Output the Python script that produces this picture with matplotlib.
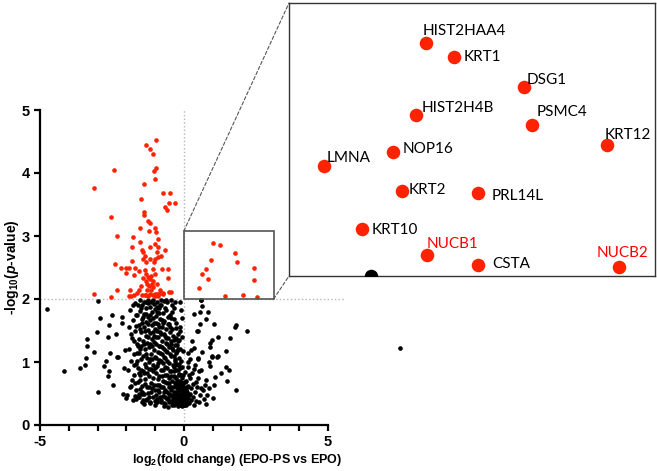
"""
Volcano plot EPO-PS vs EPO with a zoomed inset of the up-regulated corner
"""
import numpy as np
import matplotlib
matplotlib.use("Agg")
import matplotlib.pyplot as plt
from matplotlib.patches import Rectangle, ConnectionPatch

# significant proteins (red), log2 fold change / -log10 p
red_pts = [
    (-0.96, 4.53), (-1.31, 4.44), (-1.19, 4.38), (-1.07, 4.30), (-0.96, 4.08),
    (-1.05, 4.03), (-2.44, 4.04), (-1.00, 3.91), (-1.37, 3.82), (-3.14, 3.76),
    (-0.74, 3.69), (-0.49, 3.69), (-1.49, 3.58), (-0.52, 3.52), (-0.30, 3.53),
    (-0.66, 3.46), (-0.57, 3.41), (-1.40, 3.38), (-1.38, 3.33), (-2.53, 3.30),
    (-1.24, 3.24), (-1.17, 3.21), (-1.52, 3.12), (-1.00, 3.12), (-1.22, 3.08),
    (-0.96, 3.07), (-2.31, 3.00), (-1.78, 2.99), (-0.91, 2.95), (-1.52, 2.91),
    (-0.99, 2.88), (-1.79, 2.82), (-1.44, 2.78), (-1.19, 2.82), (-0.91, 2.82),
    (-1.41, 2.74), (-0.95, 2.75), (-0.66, 2.77), (-1.34, 2.68), (-0.89, 2.66),
    (-1.16, 2.64), (-1.00, 2.64), (-1.43, 2.63), (-0.81, 2.68), (-1.80, 2.61),
    (-1.30, 2.59), (-1.05, 2.58), (-2.38, 2.56), (-2.17, 2.50), (-2.00, 2.49),
    (-1.92, 2.50), (-1.70, 2.49), (-1.57, 2.45), (-1.36, 2.46), (-1.07, 2.47),
    (-0.75, 2.48), (-0.54, 2.47), (-2.02, 2.41), (-1.75, 2.38), (-1.31, 2.40),
    (-1.02, 2.40), (-1.43, 2.34), (-1.24, 2.35), (-1.13, 2.37), (-0.56, 2.34),
    (-1.33, 2.29), (-1.17, 2.31), (-1.06, 2.29), (-1.28, 2.24), (-1.12, 2.24),
    (-0.92, 2.24), (-1.50, 2.21), (-1.20, 2.20), (-1.06, 2.19), (-1.87, 2.14),
    (-1.56, 2.14), (-2.32, 2.15), (-1.28, 2.15), (-1.13, 2.14), (-0.82, 2.14),
    (-0.46, 2.11), (-3.11, 2.08), (-2.53, 2.03), (-1.92, 2.05), (-1.74, 2.07),
    (-1.45, 2.07), (-1.30, 2.07), (-1.19, 2.08), (-1.02, 2.08), (-0.89, 2.08),
    (-0.74, 2.09), (-1.24, 2.04), (-1.02, 2.04), (-0.89, 2.04), (-1.83, 2.05),
    (-1.63, 2.09), (-1.34, 2.06), (-1.07, 2.06), (-0.95, 2.08), (-0.81, 2.09),
    (-0.73, 2.08), (-0.50, 2.11),
]

# non significant proteins (black)
black_pts = [
    (-4.74, 1.84), (-2.99, 1.97), (-2.50, 1.75), (-2.92, 1.70), (-2.60, 1.59),
    (-2.15, 1.71), (-3.03, 1.47), (-2.37, 1.44), (-2.65, 1.39), (-3.38, 1.37),
    (-3.36, 1.26), (-3.14, 1.16), (-3.40, 1.06), (-2.56, 1.15), (-2.32, 1.08),
    (-2.06, 1.19), (-2.14, 1.62), (-4.15, 0.85), (-3.60, 0.90), (-3.42, 0.95),
    (-2.99, 0.53), (-2.79, 0.94), (-2.69, 1.02), (-2.59, 0.85), (-2.65, 0.77),
    (-2.45, 0.63), (-2.13, 0.50), (-2.02, 0.43), (-2.29, 1.08), (-2.09, 0.90),
    (-1.86, 0.60), (-1.71, 0.46), (-1.57, 0.45), (-1.44, 0.49), (-1.19, 0.37),
    (-0.70, 0.30), (-0.40, 0.32),
    (0.58, 1.99), (0.64, 1.89), (0.36, 1.76), (0.57, 1.79), (0.84, 1.79),
    (0.77, 1.68), (0.57, 1.60), (1.06, 1.61), (1.80, 1.59), (1.76, 1.56),
    (2.18, 1.50), (0.44, 1.50), (0.50, 1.50), (-0.15, 1.49), (0.29, 1.34),
    (1.20, 1.39), (1.62, 1.38), (0.97, 1.35), (0.91, 1.30), (0.92, 1.24),
    (0.34, 1.23), (0.24, 1.19), (0.15, 1.15), (0.64, 1.16), (1.48, 1.17),
    (0.99, 1.10), (1.18, 1.09), (0.48, 1.06), (-0.20, 1.33), (-0.25, 1.27),
    (0.14, 1.00), (0.50, 1.05), (0.87, 1.00), (0.99, 1.08), (1.16, 1.08),
    (0.90, 0.93), (1.45, 0.92), (1.58, 0.87), (0.35, 0.89), (0.52, 0.85),
    (1.28, 0.82), (1.07, 0.76), (1.51, 0.70), (0.77, 0.71), (0.87, 0.59),
    (1.03, 0.63), (1.80, 0.56), (0.59, 0.58), (0.41, 0.69), (0.23, 0.74),
    (1.01, 0.43), (0.70, 0.41), (0.77, 0.33), (0.52, 0.37), (0.35, 0.32),
    (0.06, 0.32), (0.17, 0.48), (-0.05, 0.63), (-0.17, 0.79), (7.50, 1.22),
    (-1.98, 0.47), (-1.95, 0.88), (-1.92, 1.21), (-1.90, 1.55), (-1.88, 1.83),
    (-1.85, 0.62), (-1.83, 1.02), (-1.80, 1.38), (-1.78, 1.67), (-1.76, 0.39),
    (-1.74, 0.79), (-1.72, 1.12), (-1.70, 1.49), (-1.69, 1.94), (-1.67, 0.55),
    (-1.66, 0.97), (-1.64, 1.29), (-1.62, 1.74),
    (-1.60, 0.44), (-1.59, 0.68), (-1.58, 0.91), (-1.57, 1.15), (-1.56, 1.36),
    (-1.55, 1.58), (-1.54, 1.81), (-1.53, 1.98), (-1.52, 0.57), (-1.51, 0.80),
    (-1.50, 1.04), (-1.49, 1.26), (-1.48, 1.47), (-1.47, 1.69), (-1.46, 1.90),
    (-1.45, 0.36), (-1.44, 0.62), (-1.43, 0.86), (-1.42, 1.10), (-1.41, 1.33),
    (-1.40, 1.55), (-1.39, 1.76), (-1.38, 1.95), (-1.37, 0.49), (-1.36, 0.73),
    (-1.35, 0.97), (-1.34, 1.20), (-1.33, 1.42), (-1.32, 1.64), (-1.31, 1.85),
    (-1.30, 0.40), (-1.30, 0.92),
    (-1.29, 0.60), (-1.28, 1.06), (-1.27, 1.30), (-1.26, 1.51), (-1.25, 1.72),
    (-1.24, 1.93), (-1.23, 0.51), (-1.22, 0.78), (-1.21, 1.00), (-1.20, 1.24),
    (-1.19, 1.46), (-1.18, 1.67), (-1.17, 1.88), (-1.16, 0.35), (-1.15, 0.66),
    (-1.14, 0.89), (-1.13, 1.13), (-1.12, 1.37), (-1.11, 1.59), (-1.10, 1.80),
    (-1.09, 1.99), (-1.08, 0.45), (-1.07, 0.74), (-1.06, 0.96), (-1.05, 1.19),
    (-1.04, 1.41), (-1.03, 1.62), (-1.02, 1.84), (-1.01, 0.56), (-1.00, 1.08),
    (-1.00, 1.52),
    (-0.99, 0.31), (-0.98, 0.83), (-0.97, 1.28), (-0.96, 1.73), (-0.95, 1.95),
    (-0.94, 0.42), (-0.93, 0.64), (-0.92, 0.94), (-0.91, 1.16), (-0.90, 1.39),
    (-0.89, 1.60), (-0.88, 1.86), (-0.87, 0.52), (-0.86, 0.77), (-0.85, 1.03),
    (-0.84, 1.25), (-0.83, 1.47), (-0.82, 1.69), (-0.81, 1.91), (-0.80, 0.36),
    (-0.79, 0.60), (-0.78, 0.87), (-0.77, 1.12), (-0.76, 1.33), (-0.75, 1.56),
    (-0.74, 1.78), (-0.73, 0.46), (-0.72, 0.70), (-0.71, 0.98), (-0.70, 1.21),
    (-0.70, 1.44),
    (-0.69, 1.65), (-0.68, 1.97), (-0.67, 0.33), (-0.66, 0.55), (-0.65, 0.80),
    (-0.64, 1.06), (-0.63, 1.30), (-0.62, 1.52), (-0.61, 1.83), (-0.60, 0.41),
    (-0.59, 0.66), (-0.58, 0.91), (-0.57, 1.16), (-0.56, 1.38), (-0.55, 1.61),
    (-0.54, 0.29), (-0.53, 0.50), (-0.52, 0.74), (-0.51, 0.99), (-0.50, 1.24),
    (-0.49, 1.47), (-0.48, 1.75), (-0.47, 0.38), (-0.46, 0.61), (-0.45, 0.86),
    (-0.44, 1.10), (-0.43, 1.33), (-0.42, 1.90), (-0.41, 0.46), (-0.40, 0.70),
    (-0.39, 0.95), (-0.38, 1.19), (-0.37, 1.42), (-0.36, 1.68), (-0.35, 0.31),
    (-0.34, 0.53), (-0.33, 0.77), (-0.32, 1.02), (-0.31, 1.27), (-0.30, 0.39),
    (-0.29, 0.62), (-0.28, 0.88), (-0.27, 1.14), (-0.26, 1.54), (-0.25, 0.34),
    (-0.24, 0.47), (-0.23, 0.70), (-0.22, 0.95), (-0.21, 1.21), (-0.20, 0.30),
    (-0.19, 0.42), (-0.18, 0.56), (-0.17, 0.81), (-0.16, 1.06), (-0.15, 0.36),
    (-0.14, 0.49), (-0.13, 0.64), (-0.12, 0.90), (-0.11, 0.33), (-0.10, 0.44),
    (-0.09, 0.58), (-0.08, 0.75), (-0.07, 0.38), (-0.06, 0.52), (-0.05, 0.30),
    (-0.04, 0.45), (-0.03, 0.66), (-0.02, 0.35), (-0.01, 0.50), (0.00, 0.31),
    (0.01, 0.41), (0.02, 0.60), (0.03, 0.36), (0.04, 0.47), (0.05, 0.84),
    (0.06, 0.33), (0.07, 0.55), (0.08, 0.40), (0.09, 0.70), (0.10, 0.37),
    (0.12, 0.52), (0.13, 0.92), (0.15, 0.43), (0.16, 0.62), (0.18, 0.35),
    (0.19, 0.79), (0.21, 0.49), (0.22, 1.05), (0.24, 0.40), (0.26, 0.58),
    (0.28, 0.83), (0.31, 0.45), (0.33, 0.65), (0.37, 0.52), (0.40, 0.95),
    (0.43, 0.38), (0.46, 0.60), (0.49, 0.75), (0.55, 0.47), (0.60, 0.88),
    (0.66, 0.55), (0.72, 0.64), (0.80, 0.48),
    (-1.47, 0.52), (-1.43, 1.72), (-1.39, 0.83), (-1.35, 1.49), (-1.31, 1.12),
    (-1.27, 0.42), (-1.24, 1.60), (-1.21, 0.89), (-1.18, 1.29), (-1.15, 1.95),
    (-1.12, 0.58), (-1.09, 1.48), (-1.06, 0.85), (-1.03, 1.92), (-1.00, 0.38),
    (-0.97, 1.06), (-0.94, 1.50), (-0.91, 0.73), (-0.88, 1.26), (-0.85, 1.78),
    (-0.82, 0.45), (-0.79, 1.02), (-0.76, 1.66), (-0.73, 0.88), (-0.70, 0.52),
    (-0.67, 1.42), (-0.64, 0.68), (-0.61, 1.18), (-0.58, 1.96), (-0.55, 0.43),
    (-0.52, 1.60), (-0.49, 0.86), (-0.46, 1.29), (-0.43, 0.55), (-0.40, 1.52),
    (-0.37, 0.42), (-0.34, 0.85), (-0.31, 0.47), (-0.28, 1.38), (-0.25, 0.58),
    (-0.22, 0.38), (-0.19, 0.67), (-0.16, 0.44), (-0.13, 0.32), (-0.10, 0.68),
    (-0.07, 0.46), (-0.04, 0.34), (-0.02, 0.57), (-1.58, 1.26), (-1.54, 0.72),
    (-1.50, 1.86), (-1.62, 1.02), (-1.66, 1.57), (-1.70, 0.66), (-1.74, 1.33),
    (-1.40, 0.33), (-1.30, 1.76), (-1.20, 0.60), (-1.10, 1.04), (-0.98, 1.62),
    (-0.90, 0.55), (-0.80, 1.45), (-0.70, 0.35), (-0.60, 1.02), (-0.50, 0.60),
    (-0.45, 1.70), (-0.35, 1.10), (-0.30, 0.76), (-0.20, 0.88), (-0.15, 0.58),
    (-0.08, 0.40), (-0.33, 1.85), (-0.26, 0.97), (-0.62, 1.98), (-0.95, 1.88),
    (-1.25, 1.99), (-0.80, 1.99), (-0.45, 1.98), (-0.15, 1.95), (-0.30, 1.96),
    (-0.10, 1.82), (-0.05, 1.70), (-0.12, 1.55), (-0.07, 1.40), (-0.18, 1.35),
    (-0.02, 1.18), (-0.09, 1.02), (0.58, 1.99),
    (-1.55, 0.50), (-1.52, 1.20), (-1.49, 0.88), (-1.46, 1.62), (-1.42, 0.40),
    (-1.38, 1.28), (-1.34, 0.65), (-1.32, 1.95), (-1.28, 0.83), (-1.25, 1.40),
    (-1.22, 0.44), (-1.19, 1.75), (-1.16, 1.05), (-1.13, 0.52), (-1.11, 1.26),
    (-1.08, 1.70), (-1.05, 0.63), (-1.03, 1.32), (-1.01, 0.90), (-0.98, 0.48),
    (-0.96, 1.40), (-0.93, 1.80), (-0.92, 0.36), (-0.89, 0.98), (-0.87, 1.55),
    (-0.86, 0.63), (-0.84, 1.15), (-0.82, 1.90), (-0.79, 0.40), (-0.77, 0.78),
    (-0.75, 1.24), (-0.73, 1.62), (-0.71, 0.60), (-0.69, 1.08), (-0.67, 1.85),
    (-0.66, 0.44), (-0.64, 0.92), (-0.62, 1.38), (-0.60, 0.52), (-0.58, 0.80),
    (-0.57, 1.28), (-0.55, 1.72), (-0.53, 0.36), (-0.51, 0.66), (-0.49, 1.12),
    (-0.47, 1.55), (-0.46, 0.48), (-0.44, 0.78), (-0.42, 1.22), (-0.41, 1.80),
    (-0.39, 0.36), (-0.38, 0.60), (-0.36, 0.92), (-0.35, 1.35), (-0.33, 0.44),
    (-0.32, 0.66), (-0.30, 1.05), (-0.29, 1.62), (-0.28, 0.35), (-0.27, 0.52),
    (-0.26, 0.74), (-0.24, 1.18), (-0.23, 0.42), (-0.22, 0.60), (-0.21, 0.33),
    (-0.20, 1.45), (-0.19, 0.50), (-0.18, 0.97), (-0.17, 0.37), (-0.16, 0.70),
    (-0.14, 0.40), (-0.13, 1.20), (-0.12, 0.47), (-0.11, 0.80), (-0.10, 0.36),
    (-0.08, 0.55), (-0.07, 0.92), (-0.06, 0.33), (-0.05, 0.42), (-0.04, 0.58),
    (-0.03, 0.38), (-0.02, 0.80), (-0.01, 0.32), (0.01, 0.52), (0.02, 0.38),
    (0.04, 0.68), (0.05, 0.34), (0.07, 0.44), (0.09, 0.33), (0.11, 0.60),
    (-1.85, 1.45), (-1.82, 0.72), (-1.77, 1.90), (-1.73, 0.95), (-1.68, 1.75),
    (-1.65, 0.42), (-1.63, 1.15), (-1.61, 1.90), (-1.56, 0.82), (-1.53, 1.52),
]

# up-regulated proteins shown in the inset
genes = ["HIST2HAA4", "KRT1", "DSG1", "HIST2H4B", "PSMC4", "KRT12", "NOP16",
         "LMNA", "KRT2", "PRL14L", "KRT10", "NUCB1", "CSTA", "NUCB2"]
gene_x = [1.01, 1.25, 1.78, 0.94, 1.85, 2.44, 0.77, 0.64, 0.84, 2.44, 0.51,
          1.42, 2.05, 2.53]
gene_y = [2.89, 2.85, 2.73, 2.62, 2.58, 2.50, 2.47, 2.40, 2.32, 2.30, 2.17,
          2.04, 2.07, 2.03]
# positions as drawn in the enlarged panel
inset_x = [1.17, 1.41, 2.00, 1.08, 2.07, 2.71, 0.89, 0.30, 0.96, 1.61, 0.62,
           1.18, 1.61, 2.81]
inset_y = [2.921, 2.868, 2.749, 2.637, 2.597, 2.517, 2.492, 2.436, 2.335,
           2.330, 2.185, 2.082, 2.044, 2.034]
highlight = ["NUCB1", "NUCB2"]
inset_black_x = [0.70]
inset_black_y = [2.00]

# label offsets in pixels
label_off = [(-4, 12), (9, 0), (3, 7), (6, 7), (5, 13), (-2, 10), (9, 3),
             (2, 8), (7, 1), (14, -3), (10, -1), (-1, 11), (14, 1), (-22, 14)]

RED = "#ff2200"

plt.rcParams["font.family"] = "Liberation Sans"
plt.rcParams["mathtext.fontset"] = "custom"
plt.rcParams["mathtext.rm"] = "Liberation Sans:bold"
plt.rcParams["mathtext.it"] = "Liberation Sans:italic:bold"
plt.rcParams["mathtext.bf"] = "Liberation Sans:bold"

fig = plt.figure(figsize=(6.57, 4.71), dpi=100)
ax = fig.add_axes([40 / 657, 1 - 425 / 471, 305 / 657, 315 / 471])

red = np.array(red_pts)
blk = np.array(black_pts)
ax.axhline(2, color="#b5b5b5", ls=":", lw=1, zorder=0)
ax.plot([0, 0], [0, 5], color="#b5b5b5", ls=":", lw=1, zorder=0)
ax.scatter(blk[:, 0], blk[:, 1], s=11, c="black", lw=0, clip_on=False)
ax.scatter(red[:, 0], red[:, 1], s=11, c=RED, lw=0)
ax.scatter(gene_x, gene_y, s=11, c=RED, lw=0)

ax.set_xlim(-5, 5.6)
ax.set_ylim(0, 5)
for s in ["top", "right"]:
    ax.spines[s].set_visible(False)
for s in ["left", "bottom"]:
    ax.spines[s].set_linewidth(1.6)
ax.spines["bottom"].set_bounds(-5, 5)
ax.set_xticks(np.arange(-5, 6, 1))
ax.set_xticklabels(["-5", "", "", "", "", "0", "", "", "", "", "5"])
ax.set_yticks(np.arange(0, 6, 1))
ax.tick_params(width=1.6, length=4, labelsize=10.5)
for lab in ax.get_xticklabels() + ax.get_yticklabels():
    lab.set_fontweight("bold")

ax.set_xlabel(r"log$_{2}$(fold change) (EPO-PS vs EPO)", fontsize=9,
              fontweight="bold")
ax.xaxis.set_label_coords(0.646, -0.085)
ax.set_ylabel(r"-log$_{10}$($\mathit{p}$-value)", fontsize=10,
              fontweight="bold")
ax.yaxis.set_label_coords(-0.062, 0.5)

# zoom box
box_x0, box_x1, box_y0, box_y1 = 0, 3.12, 2.0, 3.08
ax.add_patch(Rectangle((box_x0, box_y0), box_x1 - box_x0, box_y1 - box_y0,
                       fill=False, ec="#555555", lw=1.2, zorder=3))

# inset
axin = fig.add_axes([289 / 657, 1 - 276 / 471, 366 / 657, 273 / 471])
axin.set_xlim(box_x0, box_x1)
axin.set_ylim(box_y0, box_y1)
axin.set_xticks([])
axin.set_yticks([])
for s in axin.spines.values():
    s.set_color("#333333")
    s.set_linewidth(1.0)
axin.scatter(inset_x, inset_y, s=95, c=RED, lw=0, zorder=3)
axin.scatter(inset_black_x, inset_black_y, s=95, c="black", lw=0, zorder=3)
for g, x, y, (dx, dy) in zip(genes, inset_x, inset_y, label_off):
    col = "red" if g in highlight else "black"
    axin.annotate(g, (x, y), xytext=(dx, dy), textcoords="offset pixels",
                  ha="left", va="center", fontsize=11, color=col,
                  family="Lato", zorder=4)

for xa, ya, xb, yb in [(box_x0, box_y1, 0, 1), (box_x1, box_y0, 0, 0)]:
    con = ConnectionPatch(xyA=(xa, ya), coordsA=ax.transData,
                          xyB=(xb, yb), coordsB=axin.transAxes,
                          ls=(0, (3, 2)), lw=0.8, color="#555555")
    fig.add_artist(con)

plt.savefig("out.png", dpi=100)
